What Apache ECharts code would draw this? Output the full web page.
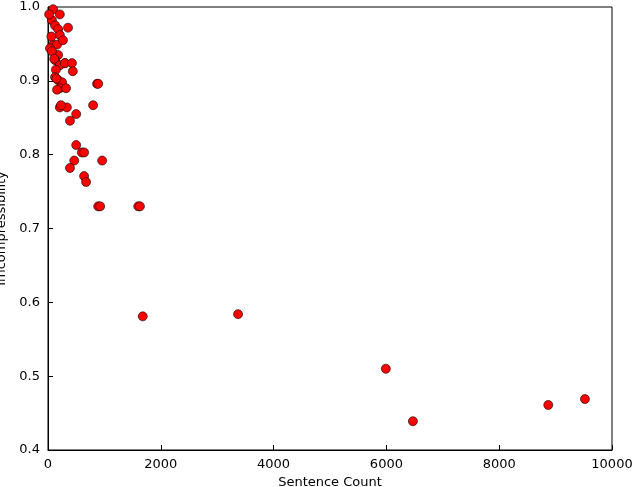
<!DOCTYPE html>
<html><head><meta charset="utf-8">
<script src="https://cdn.jsdelivr.net/npm/echarts@6/dist/echarts.min.js"></script>
<style>html,body{margin:0;background:#fff}#c{width:640px;height:487px}</style>
</head><body><div id="c"></div>
<script>
// sentence count vs incompressibility
const sentenceCount = [90,210,70,125,180,355,210,90,160,265,180,35,70,300,125,210,140,300,425,440,180,250,125,210,320,160,870,890,210,335,800,500,390,230,
  500,600,640,960,465,390,640,675,890,925,1600,1630,1680,3370,5990,6470,8870,9520,20,60,110,150];
const incompress = [0.997,0.99,0.982,0.975,0.97,0.972,0.962,0.949,0.949,0.955,0.935,0.944,0.94,0.924,0.928,0.921,0.915,0.924,0.924,0.913,0.901,0.898,0.905,0.89,0.89,0.888,0.896,0.896,0.864,0.864,0.867,0.855,0.846,0.867,
  0.813,0.803,0.803,0.792,0.792,0.782,0.771,0.763,0.73,0.73,0.73,0.73,0.581,0.584,0.51,0.439,0.461,0.469,0.99,0.96,0.93,0.903];
const yTicks = [0.4,0.5,0.6,0.7,0.8,0.9,1.0];

const chart = echarts.init(document.getElementById('c'));
const font = 'DejaVu Sans';
const axisCommon = {
  axisLine:{lineStyle:{color:'#000'}},
  axisTick:{inside:true,length:5,lineStyle:{color:'#000'}},
  splitLine:{show:false}
};
chart.setOption({
  animation:false,
  grid:{left:48,right:28,top:7,bottom:37,containLabel:false,outerBoundsMode:'none',show:true,borderColor:'#000',borderWidth:1},
  xAxis:Object.assign({type:'value',min:0,max:10000,interval:2000,name:'Sentence Count',
    nameLocation:'middle',nameGap:20,nameTextStyle:{color:'#000',fontFamily:font,fontSize:13},
    axisLabel:{color:'#000',fontFamily:font,fontSize:13,formatter:v=>String(v)}},axisCommon),
  yAxis:Object.assign({type:'value',min:yTicks[0],max:yTicks[yTicks.length-1],interval:0.1,name:'Imcompressibility',
    nameLocation:'middle',nameGap:32,nameTextStyle:{color:'#000',fontFamily:font,fontSize:13},
    axisLabel:{color:'#000',fontFamily:font,fontSize:13,formatter:v=>v.toFixed(1)}},axisCommon),
  series:[{type:'scatter',symbolSize:9,
    itemStyle:{color:'#ff0000',borderColor:'#000',borderWidth:0.6,opacity:1},
    data:sentenceCount.map((x,i)=>[x,incompress[i]])}]
});
</script></body></html>
